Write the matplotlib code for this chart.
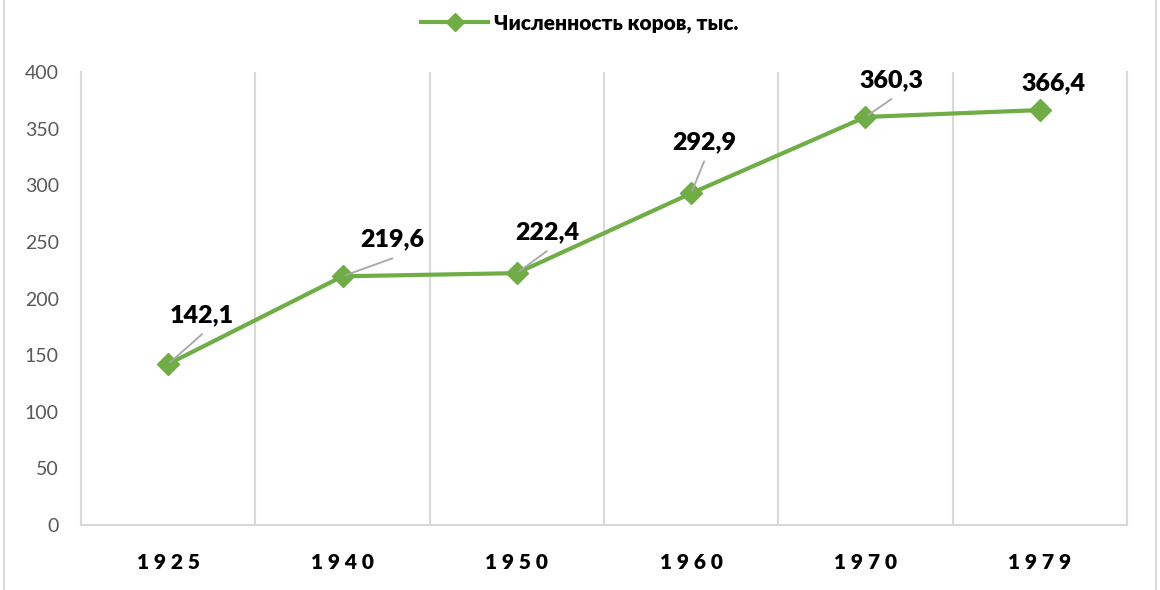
import matplotlib.pyplot as plt
from matplotlib.lines import Line2D

years = ['1925', '1940', '1950', '1960', '1970', '1979']
cows = [142.1, 219.6, 222.4, 292.9, 360.3, 366.4]
value_labels = ['142,1', '219,6', '222,4', '292,9', '360,3', '366,4']
# label offsets from each point, in pixels (right, up)
label_offsets = [(34, 49), (50, 37), (30, 41), (13, 51), (26, 37), (14, 27)]
has_leader = [True, True, True, True, True, False]

plt.rcParams['font.family'] = ['Lato', 'DejaVu Sans']

green = '#70AD47'
grid_c = '#D9D9D9'
px = 0.72  # pixels -> points at dpi 100

fig = plt.figure(figsize=(11.6, 5.9), dpi=100)
ax = fig.add_axes([81 / 1160, 65 / 590, (1127 - 81) / 1160, (525 - 72) / 590])

x = list(range(len(years)))
ax.plot(x, cows, color=green, lw=3, marker='D', ms=11, mec=green, mfc=green,
        label='Численность коров, тыс.', zorder=3)

for i, v in enumerate(cows):
    dx, dy = label_offsets[i]
    ax.annotate(value_labels[i], (i, v), xytext=(dx * px, dy * px), textcoords='offset points',
                ha='center', va='center', fontsize=18, fontweight='heavy', color='black')
    if has_leader[i]:
        ax.annotate('', (i, v), xytext=(dx * px, (dy - 19) * px), textcoords='offset points',
                    arrowprops=dict(arrowstyle='-', color='#A6A6A6', lw=1.3, shrinkA=0, shrinkB=2),
                    zorder=4)

ax.set_xlim(-0.5, len(years) - 0.5)
ax.set_ylim(0, 400)
ax.set_yticks(range(0, 401, 50))
ax.set_xticks(x)
ax.set_xticklabels([' '.join(y) for y in years], fontsize=15, fontweight='heavy')
ax.set_xticks([i + 0.5 for i in range(-1, len(years))], minor=True)
ax.grid(True, which='minor', axis='x', color=grid_c, lw=1.5)
ax.tick_params(axis='x', which='both', length=0, pad=20)
ax.tick_params(axis='y', length=0, pad=16, labelsize=14, labelcolor='#595959')

for s in ['left', 'right', 'bottom']:
    ax.spines[s].set_color(grid_c)
    ax.spines[s].set_linewidth(1.5)
ax.spines['top'].set_visible(False)

leg = fig.legend(loc='center', bbox_to_anchor=(0.5, 1 - 23 / 590), frameon=False,
                 prop={'size': 15, 'weight': 'heavy'}, handlelength=3.2, handletextpad=0.3,
                 markerscale=0.8)

fig.add_artist(Line2D([4 / 1160, 4 / 1160], [0, 1], color=grid_c, lw=1.5))
fig.add_artist(Line2D([1156 / 1160, 1156 / 1160], [0, 1], color=grid_c, lw=1.5))

fig.savefig('out.png', dpi=100)
